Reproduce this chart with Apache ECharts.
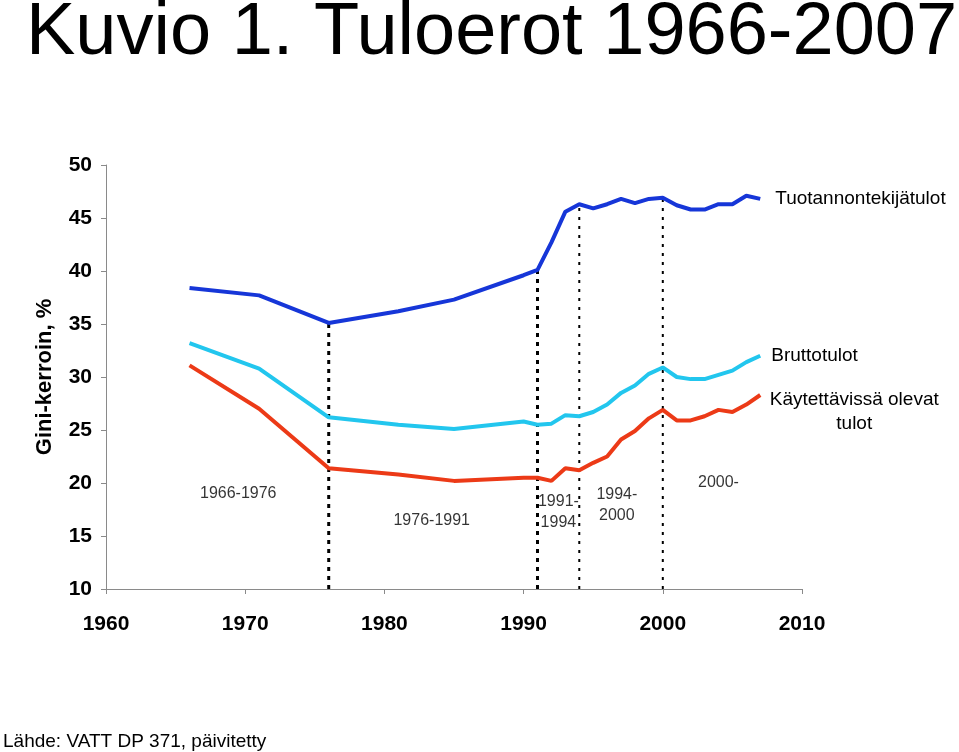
<!DOCTYPE html>
<html>
<head>
<meta charset="utf-8">
<script src="https://cdn.jsdelivr.net/npm/echarts@6/dist/echarts.min.js"></script>
<style>
  html, body { margin: 0; padding: 0; background: #fff; }
  #main { width: 959px; height: 752px; }
</style>
</head>
<body>
<div id="main"></div>
<script>
// vuodet ja Gini-kertoimet (%)
const years = [1966, 1971, 1976, 1981, 1985, 1990, 1991, 1992, 1993, 1994, 1995, 1996,
  1997, 1998, 1999, 2000, 2001, 2002, 2003, 2004, 2005, 2006, 2007];
const tuotannontekijatulot = [38.4, 37.7, 35.1, 36.2, 37.3, 39.6, 40.1, 42.7, 45.6, 46.3, 45.9, 46.3,
  46.8, 46.4, 46.8, 46.9, 46.2, 45.8, 45.8, 46.3, 46.3, 47.1, 46.8];
const bruttotulot = [33.2, 30.8, 26.2, 25.5, 25.1, 25.8, 25.5, 25.6, 26.4, 26.3, 26.7, 27.4,
  28.5, 29.2, 30.3, 30.9, 30.0, 29.8, 29.8, 30.2, 30.6, 31.4, 32.0];
const kaytettavissa = [31.1, 27.0, 21.4, 20.8, 20.2, 20.5, 20.5, 20.2, 21.4, 21.2, 21.9, 22.5,
  24.1, 24.9, 26.1, 26.9, 25.9, 25.9, 26.3, 26.9, 26.7, 27.4, 28.3];

// jaksojen rajat
const breakYears = [1976, 1991, 1994, 2000];
const periodLabels = ['1966-1976', '1976-1991', '1991-\n1994', '1994-\n2000', '2000-'];

// akselien jaot
const xTicks = { min: 1960, max: 2010, step: 10 };
const yTicks = { min: 10, max: 50, step: 5 };

const chart = echarts.init(document.getElementById('main'));
const font = 'Liberation Sans, Arial, Helvetica, sans-serif';

function pairs(vals) {
  return years.map((y, i) => [y, vals[i]]);
}

// pystyviivat rajavuosille, ylimmän käyrän tasolle asti
const breakSeries = breakYears.map((yr, i) => ({
  type: 'line',
  silent: true,
  symbol: 'none',
  z: 1,
  lineStyle: {
    color: '#000',
    width: i < 2 ? 3 : 2,
    type: i < 2 ? [4, 5] : [3, 6]
  },
  data: [[yr, yTicks.min], [yr, tuotannontekijatulot[years.indexOf(yr)]]]
}));

// jaksotekstien paikat (vuosi, arvo)
const periodPos = [[1969.5, 19.0], [1983.4, 16.5], [1992.5, 17.3], [1996.7, 17.9], [2004.0, 20.0]];

chart.setOption({
  animation: false,
  title: [{
    text: 'Kuvio 1. Tuloerot 1966-2007',
    left: 21,
    top: -8,
    textStyle: { fontFamily: font, fontSize: 74, fontWeight: 'normal', color: '#000' }
  }, {
    text: 'Lähde: VATT DP 371, päivitetty',
    left: -2,
    top: 727,
    textStyle: { fontFamily: font, fontSize: 19, fontWeight: 'normal', color: '#000' }
  }],
  grid: { left: 106, right: 157, top: 165, bottom: 163 },
  xAxis: {
    type: 'value',
    min: xTicks.min,
    max: xTicks.max,
    interval: xTicks.step,
    splitLine: { show: false },
    axisLine: { lineStyle: { color: '#8a8a8a', width: 1 } },
    axisTick: { show: true, length: 5, lineStyle: { color: '#8a8a8a' } },
    axisLabel: {
      margin: 25,
      color: '#000',
      fontFamily: font,
      fontSize: 21,
      fontWeight: 'bold',
      formatter: v => String(v)
    }
  },
  yAxis: {
    type: 'value',
    min: yTicks.min,
    max: yTicks.max,
    interval: yTicks.step,
    name: 'Gini-kerroin, %',
    nameLocation: 'middle',
    nameGap: 50,
    nameTextStyle: { fontFamily: font, fontSize: 22, fontWeight: 'bold', color: '#000' },
    splitLine: { show: false },
    axisLine: { show: true, lineStyle: { color: '#8a8a8a', width: 1 } },
    axisTick: { show: true, length: 5, lineStyle: { color: '#8a8a8a' } },
    axisLabel: { margin: 14, color: '#000', fontFamily: font, fontSize: 21, fontWeight: 'bold' }
  },
  series: [
    ...breakSeries,
    {
      name: 'Tuotannontekijätulot',
      type: 'line',
      symbol: 'none',
      z: 3,
      lineStyle: { color: '#1636d8', width: 4 },
      data: pairs(tuotannontekijatulot),
      endLabel: {
        show: true,
        formatter: 'Tuotannontekijätulot',
        distance: 15,
        color: '#000',
        fontFamily: font,
        fontSize: 19
      }
    },
    {
      name: 'Bruttotulot',
      type: 'line',
      symbol: 'none',
      z: 3,
      lineStyle: { color: '#22c6ee', width: 4 },
      data: pairs(bruttotulot),
      endLabel: {
        show: true,
        formatter: 'Bruttotulot',
        distance: 11,
        color: '#000',
        fontFamily: font,
        fontSize: 19
      }
    },
    {
      name: 'Käytettävissä olevat tulot',
      type: 'line',
      symbol: 'none',
      z: 3,
      lineStyle: { color: '#ec3a17', width: 4 },
      data: pairs(kaytettavissa),
      endLabel: {
        show: true,
        formatter: 'Käytettävissä olevat\ntulot',
        distance: 5,
        align: 'center',
        offset: [89, 17],
        lineHeight: 24,
        color: '#000',
        fontFamily: font,
        fontSize: 19
      }
    },
    {
      type: 'scatter',
      silent: true,
      symbolSize: 0,
      z: 4,
      data: periodPos.map((p, i) => [p[0], p[1], periodLabels[i]]),
      label: {
        show: true,
        position: 'inside',
        formatter: p => p.data[2],
        color: '#000',
        fontFamily: font,
        fontSize: 16,
        lineHeight: 21
      }
    }
  ]
});
</script>
</body>
</html>
